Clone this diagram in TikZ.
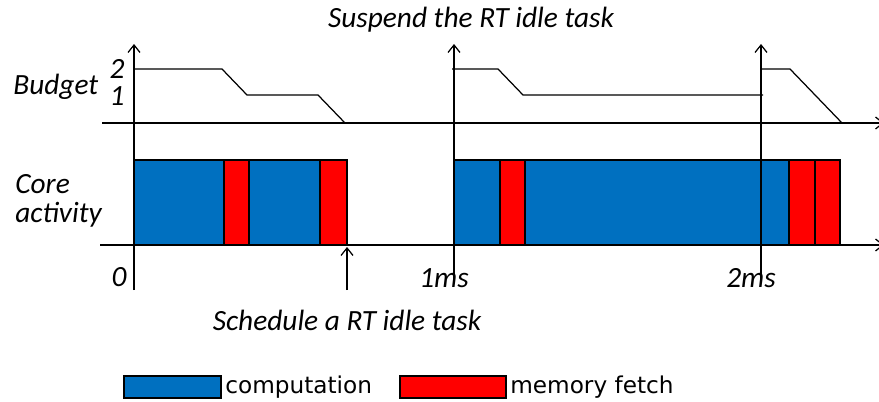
\documentclass[tikz,border=0pt]{standalone}
\usepackage{fontspec}
\setmainfont{Carlito}
\newfontfamily\legendfont{DejaVu Sans}
\usetikzlibrary{arrows.meta}
\definecolor{compblue}{RGB}{0,112,192}
\definecolor{fetchred}{RGB}{255,0,0}

\begin{document}
\begin{tikzpicture}[x=0.02cm,y=-0.02cm]
		\tikzset{axis/.style = {line width=0.7pt}}
		\tikzset{arr/.style = {-{Straight Barb[length=1.5mm,width=2.4mm]},line width=0.7pt}}
		\tikzset{lbl/.style = {font=\itshape\fontsize{16.7}{19}\selectfont, inner sep=0}}
		\tikzset{comp/.style = {fill=compblue, draw=black, line width=1.6pt}}
		\tikzset{fetch/.style = {fill=fetchred, draw=black, line width=1.6pt}}
		\tikzset{legtext/.style = {font=\legendfont\fontsize{13.2}{15}\selectfont, anchor=west, inner sep=0}}
		
		\useasboundingbox (0,0) rectangle (879,402);
		
		% axes
		\coordinate (bl) at (102,123);
		\coordinate (br) at (884,123);
		\coordinate (cl) at (100,245);
		\coordinate (cr) at (884,245);
		\coordinate (t0) at (134,290);
		\coordinate (t0up) at (134,44);
		\coordinate (t1) at (454,279);
		\coordinate (t1up) at (454,44);
		\coordinate (t2) at (761,279);
		\coordinate (t2up) at (761,44);
		
		\draw[arr] (bl) to (br);
		\draw[arr] (cl) to (cr);
		\draw[arr] (t0) to (t0up);
		\draw[arr] (t1) to (t1up);
		\draw[arr] (t2) to (t2up);
		
		% budget
		\draw[axis] (134,69) -- (222,69) -- (247,95) -- (318,95) -- (345,123);
		\draw[axis] (452,69) -- (498,69) -- (523,95) -- (763,95);
		\draw[axis] (761,69) -- (790,69) -- (842,123);
		
		% core activity
		\draw[comp]  (134,160) rectangle (224,245);
		\draw[fetch] (224,160) rectangle (249,245);
		\draw[comp]  (249,160) rectangle (320,245);
		\draw[fetch] (320,160) rectangle (347,245);
		
		\draw[comp]  (454,160) rectangle (500,245);
		\draw[fetch] (500,160) rectangle (525,245);
		\draw[comp]  (525,160) rectangle (761,245);
		\draw[comp]  (761,160) rectangle (789,245);
		\draw[fetch] (789,160) rectangle (815,245);
		\draw[fetch] (815,160) rectangle (840,245);
		
		% labels
		\node[lbl,anchor=west] (budget) at ( 13, 87) {Budget};
		\node[lbl]   (two) at (117, 69) {2};
		\node[lbl]   (one) at (117, 96) {1};
		\node[lbl,anchor=west]  (core) at ( 15,184) {Core};
		\node[lbl,anchor=west]   (act) at ( 15,215) {activity};
		\node[lbl] (zero) at (119,277) {0};
		\node[lbl] (onems) at (444,278) {1ms};
		\node[lbl] (twoms) at (751,278) {2ms};
		\node[lbl] (susp) at (471, 20) {Suspend the RT idle task};
		\node[lbl] (sched) at (347,320) {Schedule a RT idle task};
		
		\coordinate (sa) at (347,290);
		\coordinate (sb) at (347,247);
		\draw[arr] (sa) to (sb);
		
		% legend
		\draw[comp]  (124,376) rectangle (221,398);
		\node[legtext] (lcomp) at (225,387) {computation};
		\draw[fetch] (400,376) rectangle (506,398);
		\node[legtext] (lfetch) at (510,387) {memory fetch};
\end{tikzpicture}
\end{document}
